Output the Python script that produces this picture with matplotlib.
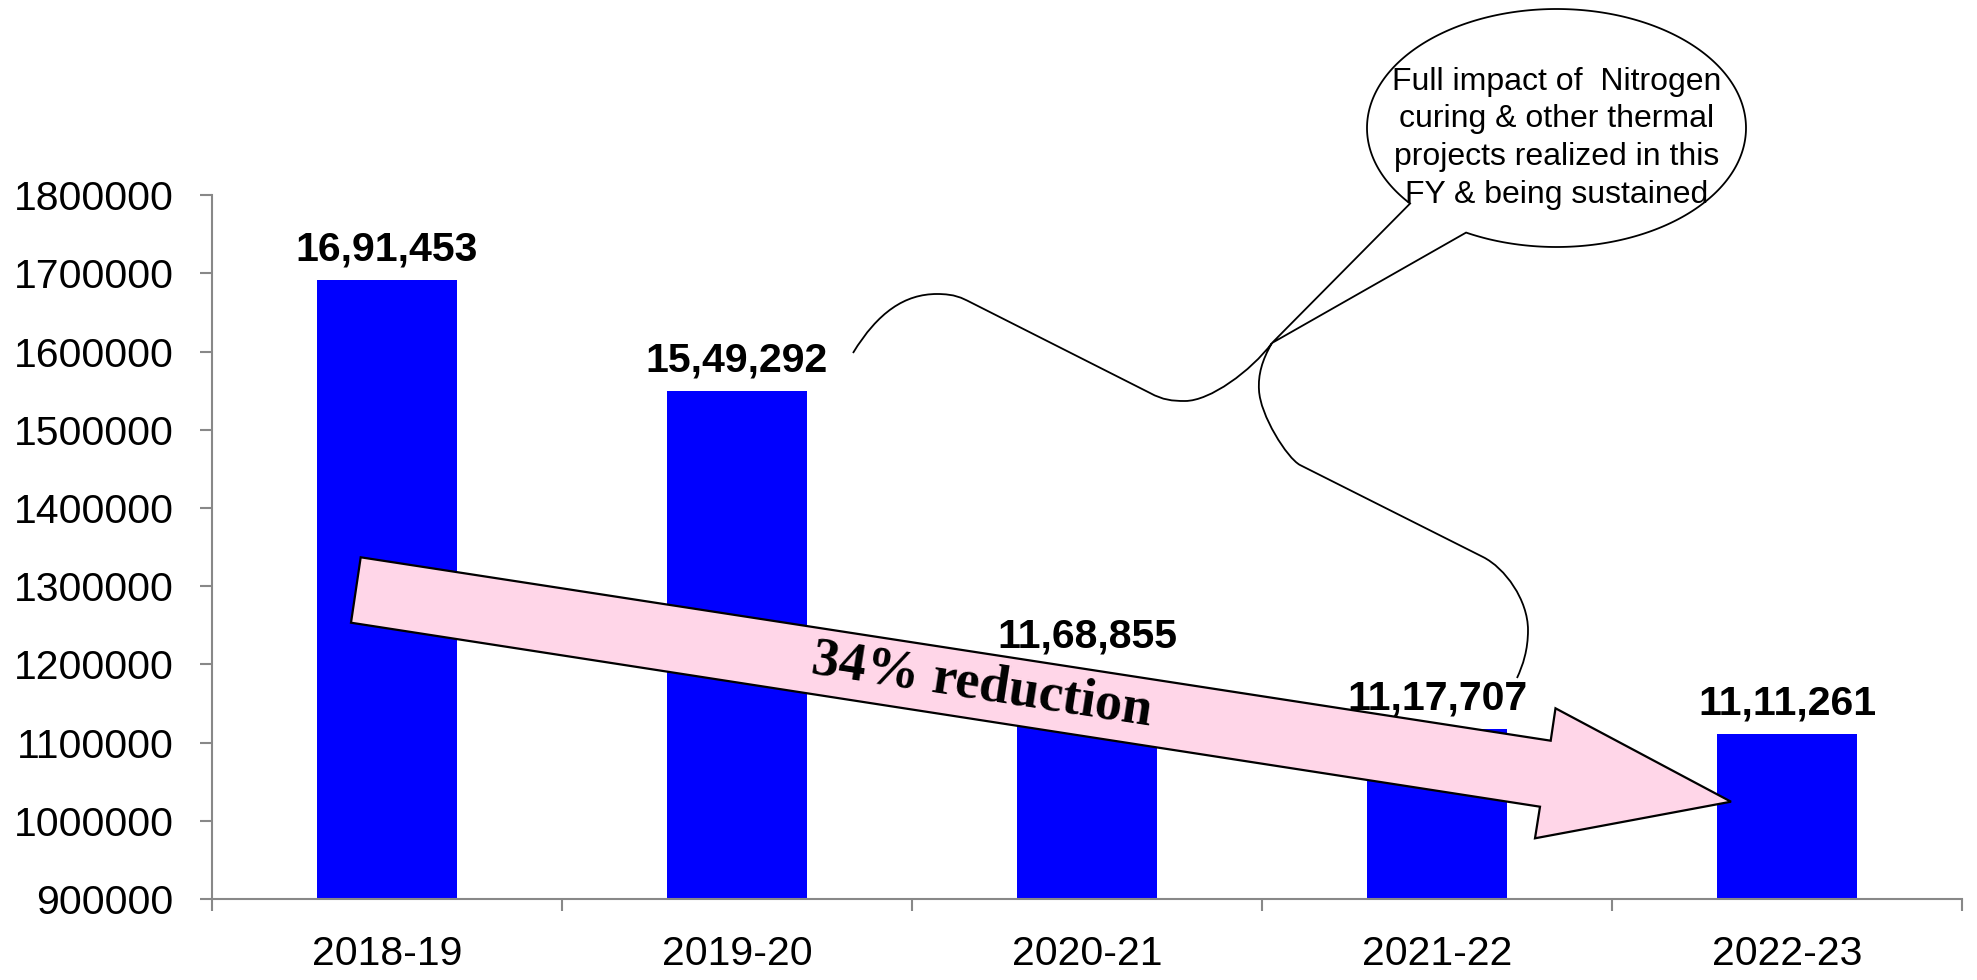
import matplotlib
matplotlib.use("Agg")
import matplotlib.pyplot as plt
import numpy as np
from matplotlib.patches import Polygon, PathPatch
from matplotlib.path import Path
from matplotlib.transforms import Affine2D
from matplotlib.ticker import FuncFormatter

# ---- data -------------------------------------------------------------
years = ["2018-19", "2019-20", "2020-21", "2021-22", "2022-23"]
consumption = [1691453, 1549292, 1168855, 1117707, 1111261]
y_ticks = [900000, 1000000, 1100000, 1200000, 1300000,
           1400000, 1500000, 1600000, 1700000, 1800000]
callout_lines = ["Full impact of  Nitrogen",
                 "curing & other thermal",
                 "projects realized in this",
                 "FY & being sustained"]
trend_text = "34% reduction"

# vertical lift (points) of each value label above its bar
label_lift = [14, 14, 30, 14, 14]

plt.rcParams["font.family"] = ["Liberation Sans", "DejaVu Sans"]

W, H = 1977, 980
fig = plt.figure(figsize=(W / 100, H / 100), dpi=100)
ax = fig.add_axes([212 / W, 1 - 899 / H, 1750 / W, (899 - 195.3) / H])

# pixel-space transform (origin top-left) for the free-hand decorations
px = Affine2D().scale(1 / W, -1 / H).translate(0, 1) + fig.transFigure


def indian_format(n):
    s = str(int(n))
    last3, rest = s[-3:], s[:-3]
    groups = []
    while len(rest) > 2:
        groups.insert(0, rest[-2:])
        rest = rest[:-2]
    if rest:
        groups.insert(0, rest)
    return ",".join(groups + [last3])


x = np.arange(len(years))
ax.bar(x, consumption, width=0.4, color="#0000FF", zorder=1)

for xi, v, lift in zip(x, consumption, label_lift):
    ax.annotate(indian_format(v), xy=(xi, v), xytext=(0, lift),
                textcoords="offset points", ha="center", va="baseline",
                fontsize=29.5, fontweight="bold", color="black", zorder=6)

ax.set_xlim(-0.5, len(years) - 0.5)
ax.set_ylim(y_ticks[0], y_ticks[-1])
ax.set_yticks(y_ticks)
ax.yaxis.set_major_formatter(FuncFormatter(lambda v, _: f"{int(v)}"))
ax.set_xticks(x)
ax.set_xticklabels(years)
ax.set_xticks(np.arange(-0.5, len(years)), minor=True)

axis_grey = "#888888"
ax.tick_params(axis="x", which="major", length=0, pad=26, labelsize=29.5)
ax.tick_params(axis="x", which="minor", length=8.6, width=1.5,
               color=axis_grey, direction="out")
ax.tick_params(axis="y", which="major", length=8.6, width=1.5,
               color=axis_grey, direction="out", pad=19, labelsize=29.5)
for side in ("top", "right"):
    ax.spines[side].set_visible(False)
for side in ("left", "bottom"):
    ax.spines[side].set_color(axis_grey)
    ax.spines[side].set_linewidth(1.5)

# ---- big pink trend arrow --------------------------------------------
arrow_pts = [(360.7, 557.3), (1550.7, 740.7), (1555.5, 708.3), (1731, 801.7),
             (1535, 838.3), (1540, 806.7), (351, 622.7)]
ax.add_patch(Polygon(arrow_pts, closed=True, facecolor="#FFD6E8",
                     edgecolor="black", lw=1.6, transform=px,
                     clip_on=False, zorder=3))
ax.text(981.5, 686, trend_text, transform=px, rotation=-8.8,
        ha="center", va="center", fontsize=39, fontweight="bold",
        family=["Liberation Serif", "DejaVu Serif"], zorder=4)

# ---- wavy connector ---------------------------------------------------
M, C, L = Path.MOVETO, Path.CURVE4, Path.LINETO
verts = [(853, 353),
         (878, 312), (905, 294), (937, 294),
         (955, 294), (962, 298), (970, 302),
         (1150, 393),
         (1163, 400), (1172, 401), (1185, 401),
         (1210, 401), (1251, 371), (1272, 343),
         (1272, 343),
         (1262, 360), (1258, 375), (1259, 390),
         (1260, 415), (1287, 458), (1300, 465),
         (1483, 557),
         (1505, 568), (1528, 600), (1528, 630),
         (1528, 650), (1523, 665), (1517, 678)]
codes = [M, C, C, C, C, C, C, L, C, C, C, C, C, C,
         M, C, C, C, C, C, C, L, C, C, C, C, C, C]
ax.add_patch(PathPatch(Path(verts, codes), fill=False, edgecolor="black",
                       lw=1.3, transform=px, clip_on=False, zorder=5))

# ---- speech-bubble callout -------------------------------------------
cx, cy, a, b = 1556.5, 128, 189.5, 119
t = np.radians(np.linspace(140.6, 478.5, 300))
bubble = list(zip(cx + a * np.cos(t), cy + b * np.sin(t))) + [(1272, 343)]
ax.add_patch(Polygon(bubble, closed=True, facecolor="white",
                     edgecolor="black", lw=1.3, transform=px,
                     clip_on=False, zorder=7))
for line, base in zip(callout_lines, [90, 127, 165, 203]):
    ax.text(1556.7, base, line, transform=px, ha="center", va="baseline",
            fontsize=23, color="black", zorder=8)

fig.savefig("out.png", dpi=100, facecolor="white")
